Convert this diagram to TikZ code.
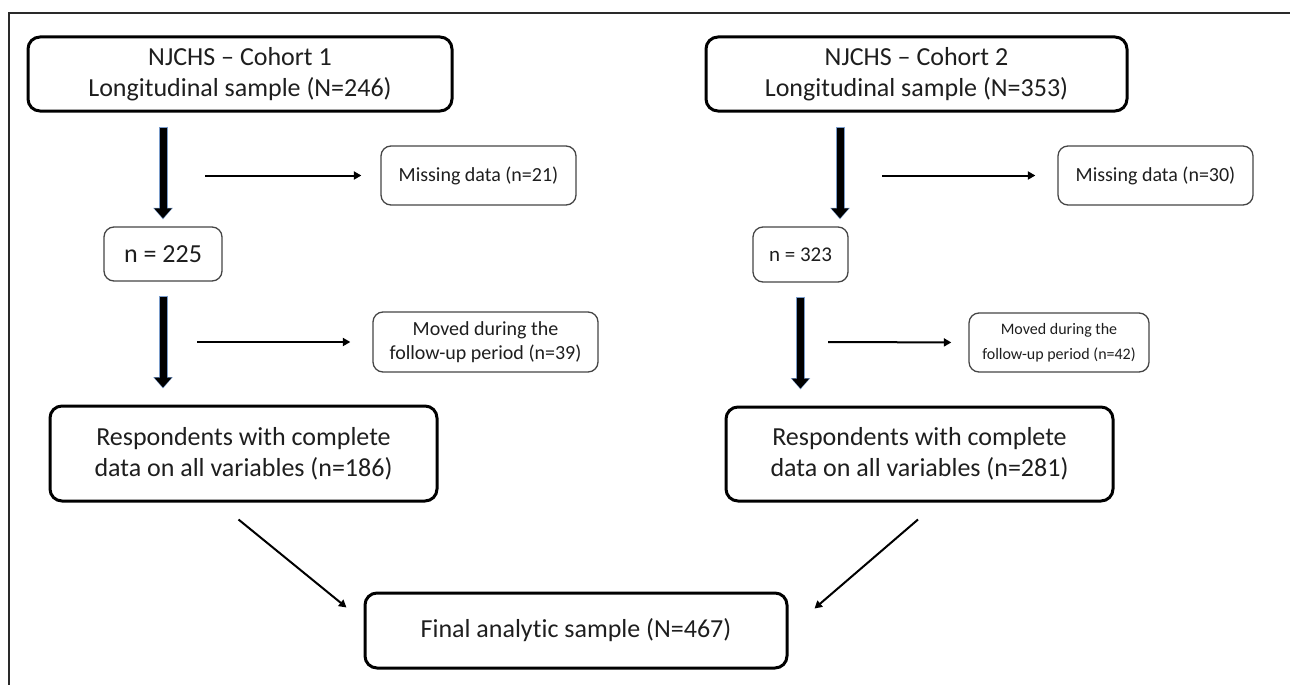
\documentclass[tikz,border=0pt]{standalone}
\usepackage{fontspec}
\setmainfont[Ligatures=NoCommon]{Carlito}
\usetikzlibrary{arrows.meta,calc}
\definecolor{txt}{HTML}{1E1E1E}
\definecolor{edgeblue}{HTML}{7A9CCB}
\definecolor{framec}{HTML}{2A2A2A}
\definecolor{thinbox}{HTML}{454545}
\begin{document}
\begin{tikzpicture}[x=1pt,y=-1pt,
  mainbox/.style={draw=black, line width=3pt, rounded corners=12pt, align=center, inner sep=0pt, text=txt, font=\fontsize{26}{31}\selectfont},
  smallbox/.style={draw=thinbox, line width=1.3pt, rounded corners=10pt, align=center, inner sep=0pt, text=txt, font=\fontsize{20}{24.5}\selectfont},
  bigedge/.style={line width=9pt, draw=edgeblue, -{Triangle[width=19pt,length=11.5pt]}},
  bigarrow/.style={line width=7pt, draw=black, -{Triangle[width=17pt,length=10pt]}},
  thinarrow/.style={line width=2pt, draw=black, -{Triangle[width=8pt,length=7.5pt]}},
]
\useasboundingbox (0,0) rectangle (1290,685);
\draw[framec, line width=1.6pt] (9,685) -- (9,13) -- (1290,13);

% nodes
\node[mainbox, minimum width=424pt, minimum height=74pt] (c1) at (240,74) {NJCHS -- Cohort 1\\Longitudinal sample (N=246)};
\node[mainbox, minimum width=421pt, minimum height=74pt] (c2) at (916.5,74) {NJCHS -- Cohort 2\\Longitudinal sample (N=353)};
\node[smallbox, minimum width=195pt, minimum height=59pt] (m1) at (478.5,175.5) {Missing data (n=21)};
\node[smallbox, minimum width=195pt, minimum height=59pt] (m2) at (1155.5,175.5) {Missing data (n=30)};
\node[smallbox, minimum width=118pt, minimum height=54pt, font=\fontsize{26}{31}\selectfont] (n1) at (163,254) {n = 225};
\node[smallbox, minimum width=95pt, minimum height=55pt, font=\fontsize{21}{25}\selectfont] (n2) at (800.5,254.5) {n = 323};
\node[smallbox, minimum width=225pt, minimum height=60pt] (mv1) at (485.5,342) {Moved during the\\follow-up period (n=39)};
\node[smallbox, minimum width=180pt, minimum height=59pt, font=\fontsize{16}{25}\selectfont] (mv2) at (1059,342.5) {Moved during the\\follow-up period (n=42)};
\node[mainbox, minimum width=387pt, minimum height=95pt] (r1) at (243.5,453.5) {Respondents with complete\\data on all variables (n=186)};
\node[mainbox, minimum width=387pt, minimum height=94pt] (r2) at (919.5,454) {Respondents with complete\\data on all variables (n=281)};
\node[mainbox, minimum width=422pt, minimum height=75pt] (f) at (576,630.5) {Final analytic sample (N=467)};

% helper coordinates for free ends
\coordinate (col2) at (840,0);
\coordinate (s1) at (205,175.5);
\coordinate (s2) at (197,342);
\coordinate (s3) at (882,175.5);
\coordinate (s4) at (828,342);
\coordinate (d1s) at ($(r1.south)+(-5,17)$);
\coordinate (d1e) at ($(f.north west)+(-17,16)$);
\coordinate (d2s) at ($(r2.south)+(-1.5,17)$);
\coordinate (d2e) at ($(f.north east)+(26,17)$);

% thick arrows
\foreach \a/\b/\sa/\sb in {{(n1 |- c1.south)}/{(n1.north)}/14/7, {(n1.south)}/{(n1 |- r1.north)}/14/16, {(col2 |- c2.south)}/{(col2 |- n2.north)}/14/7, {(n2.south)}/{(n2 |- r2.north)}/14/16}{
  \draw[bigedge, shorten <=\sa pt, shorten >=\sb pt] \a -- \b;
  \draw[bigarrow, shorten <=\sa pt+1pt, shorten >=\sb pt+1pt] \a -- \b;
}

% thin arrows
\draw[thinarrow, shorten >=19pt] (s1) -- (m1.west);
\draw[thinarrow, shorten >=22pt] (s2) -- (mv1.west);
\draw[thinarrow, shorten >=22pt] (s3) -- (m2.west);
\draw[thinarrow, shorten >=17pt] (s4) -- (mv2.west);
\draw[thinarrow] (d1s) -- (d1e);
\draw[thinarrow] (d2s) -- (d2e);
\end{tikzpicture}
\end{document}
